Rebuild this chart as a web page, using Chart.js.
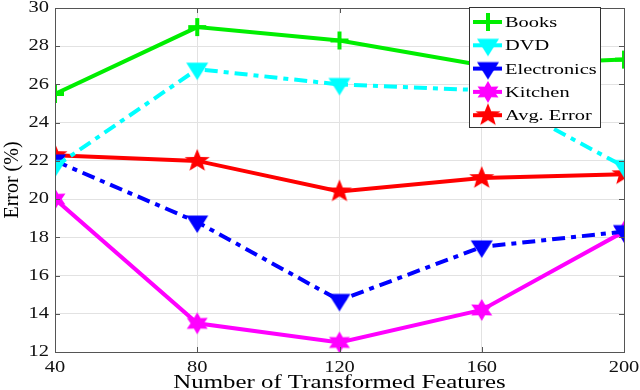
<!DOCTYPE html>
<html>
<head>
<meta charset="utf-8">
<script src="https://cdn.jsdelivr.net/npm/chart.js@4"></script>
<style>
  body { margin: 0; background: #fff; }
  #wrap { width: 640px; height: 390px; }
</style>
</head>
<body>
<div id="wrap"><canvas id="myChart" width="640" height="390"></canvas></div>
<script>
// data
const features = [40, 80, 120, 160, 200];
const books = [25.5, 29.0, 28.3, 27.0, 27.3];
const dvd = [21.7, 26.8, 26.0, 25.7, 21.7];
const electronics = [22.0, 18.8, 14.7, 17.5, 18.3];
const kitchen = [20.0, 13.5, 12.5, 14.2, 18.3];
const avgError = [22.3, 22.0, 20.4, 21.1, 21.3];
const yTicks = [12, 14, 16, 18, 20, 22, 24, 26, 28, 30];
const xTitle = "Number of Transformed Features";
const yTitle = "Error (%)";

const serif = "'Liberation Serif', 'DejaVu Serif', serif";
const stretch = 1.33; // the original figure is widened horizontally

// marker images, drawn once
function makeMarker(kind, color, r) {
  const c = document.createElement("canvas");
  const s = Math.ceil(r * 2 + 4);
  c.width = s; c.height = s;
  const ctx = c.getContext("2d");
  const cx = s / 2, cy = s / 2;
  ctx.fillStyle = color;
  ctx.strokeStyle = color;
  if (kind === "plus") {
    ctx.lineWidth = 4;
    ctx.beginPath();
    ctx.moveTo(cx - r, cy); ctx.lineTo(cx + r, cy);
    ctx.moveTo(cx, cy - r); ctx.lineTo(cx, cy + r);
    ctx.stroke();
  } else if (kind === "tridown") {
    ctx.beginPath();
    ctx.moveTo(cx - r, cy - r * 0.6);
    ctx.lineTo(cx + r, cy - r * 0.6);
    ctx.lineTo(cx, cy + r);
    ctx.closePath();
    ctx.fill();
  } else {
    const n = kind === "star5" ? 5 : 6;
    const inner = kind === "star5" ? r * 0.42 : r * 0.55;
    ctx.beginPath();
    for (let i = 0; i < n * 2; i++) {
      const rad = i % 2 === 0 ? r : inner;
      const a = -Math.PI / 2 + i * Math.PI / n;
      const x = cx + rad * Math.cos(a) * 1.1, y = cy + rad * Math.sin(a);
      if (i === 0) ctx.moveTo(x, y); else ctx.lineTo(x, y);
    }
    ctx.closePath();
    ctx.fill();
  }
  return c;
}

function pts(arr) {
  return arr.map((v, i) => ({ x: features[i], y: v }));
}

const datasets = [
  { label: "Books", data: pts(books), borderColor: "#00ee00", pointStyle: makeMarker("plus", "#00ee00", 9), borderDash: [] },
  { label: "DVD", data: pts(dvd), borderColor: "#00ffff", pointStyle: makeMarker("tridown", "#00ffff", 11), borderDash: [13, 6, 5, 6] },
  { label: "Electronics", data: pts(electronics), borderColor: "#0000ff", pointStyle: makeMarker("tridown", "#0000ff", 11), borderDash: [13, 6, 5, 6] },
  { label: "Kitchen", data: pts(kitchen), borderColor: "#ff00ff", pointStyle: makeMarker("star6", "#ff00ff", 11), borderDash: [] },
  { label: "Avg. Error", data: pts(avgError), borderColor: "#ff0000", pointStyle: makeMarker("star5", "#ff0000", 12), borderDash: [] }
].map((d) => ({ ...d, borderWidth: 4, backgroundColor: d.borderColor, fill: false, tension: 0 }));

function wideText(ctx, text, x, y, align, sx) {
  ctx.save();
  ctx.translate(x, y);
  ctx.scale(sx, 1);
  ctx.textAlign = align;
  ctx.fillText(text, 0, 0);
  ctx.restore();
}

// frame, inward ticks, labels, boxed legend
const framePlugin = {
  id: "frame",
  afterDraw(chart) {
    const ctx = chart.ctx;
    const a = chart.chartArea;
    const xs = chart.scales.x, ys = chart.scales.y;
    ctx.save();
    ctx.strokeStyle = "#555";
    ctx.lineWidth = 1;
    ctx.strokeRect(a.left + 0.5, a.top + 0.5, a.right - a.left, a.bottom - a.top);
    ctx.beginPath();
    features.forEach((v) => {
      const px = Math.round(xs.getPixelForValue(v)) + 0.5;
      ctx.moveTo(px, a.bottom); ctx.lineTo(px, a.bottom - 5);
      ctx.moveTo(px, a.top); ctx.lineTo(px, a.top + 5);
    });
    yTicks.forEach((v) => {
      const py = Math.round(ys.getPixelForValue(v)) + 0.5;
      ctx.moveTo(a.left, py); ctx.lineTo(a.left + 5, py);
      ctx.moveTo(a.right, py); ctx.lineTo(a.right - 5, py);
    });
    ctx.stroke();

    ctx.fillStyle = "#111";
    ctx.font = "16px " + serif;
    ctx.textBaseline = "middle";
    features.forEach((v) => {
      wideText(ctx, String(v), xs.getPixelForValue(v), a.bottom + 16, "center", 1.28);
    });
    yTicks.forEach((v) => {
      wideText(ctx, String(v), a.left - 6, ys.getPixelForValue(v), "right", 1.28);
    });
    ctx.fillStyle = "#000";
    ctx.font = "18px " + serif;
    ctx.textBaseline = "alphabetic";
    wideText(ctx, xTitle, (a.left + a.right) / 2, 388, "center", stretch + 0.05);
    ctx.save();
    ctx.translate(18, (a.top + a.bottom) / 2);
    ctx.rotate(-Math.PI / 2);
    ctx.textAlign = "center";
    ctx.font = "20px " + serif;
    ctx.fillText(yTitle, 0, 0);
    ctx.restore();

    const bx = 469, by = 7, bw = 131, bh = 120;
    ctx.fillStyle = "#fff";
    ctx.fillRect(bx, by, bw, bh);
    ctx.strokeStyle = "#333";
    ctx.lineWidth = 1;
    ctx.strokeRect(bx + 0.5, by + 0.5, bw, bh);
    ctx.font = "15px " + serif;
    ctx.textBaseline = "middle";
    chart.data.datasets.forEach((ds, i) => {
      const y = by + 15 + i * 23.3;
      ctx.strokeStyle = ds.borderColor;
      ctx.lineWidth = 4;
      ctx.setLineDash([]);
      ctx.beginPath();
      ctx.moveTo(bx + 4, y); ctx.lineTo(bx + 33, y);
      ctx.stroke();
      const img = ds.pointStyle;
      ctx.drawImage(img, bx + 19 - img.width / 2, y - img.height / 2);
      ctx.fillStyle = "#000";
      wideText(ctx, ds.label, bx + 36, y + 1, "left", 1.36);
    });
    ctx.restore();
  }
};

const config = {
  type: "line",
  data: { datasets },
  options: {
    responsive: false,
    animation: false,
    layout: { padding: { top: 6, right: 16, left: 0, bottom: 0 } },
    plugins: { legend: { display: false }, tooltip: { enabled: false } },
    scales: {
      x: {
        type: "linear",
        min: 40, max: 200,
        afterFit: (s) => { s.height = 38; s.paddingLeft = 0; s.paddingRight = 0; },
        ticks: { stepSize: 40, display: false },
        grid: { color: "#e2e2e2", tickLength: 0 },
        border: { color: "#555" }
      },
      y: {
        min: 12, max: 30,
        afterFit: (s) => { s.width = 55; s.paddingTop = 0; s.paddingBottom = 0; },
        afterBuildTicks: (s) => { s.ticks = yTicks.map((v) => ({ value: v })); },
        ticks: { display: false },
        grid: { color: "#e2e2e2", tickLength: 0 },
        border: { color: "#555" }
      }
    }
  },
  plugins: [framePlugin]
};

new Chart(document.getElementById("myChart"), config);
</script>
</body>
</html>
